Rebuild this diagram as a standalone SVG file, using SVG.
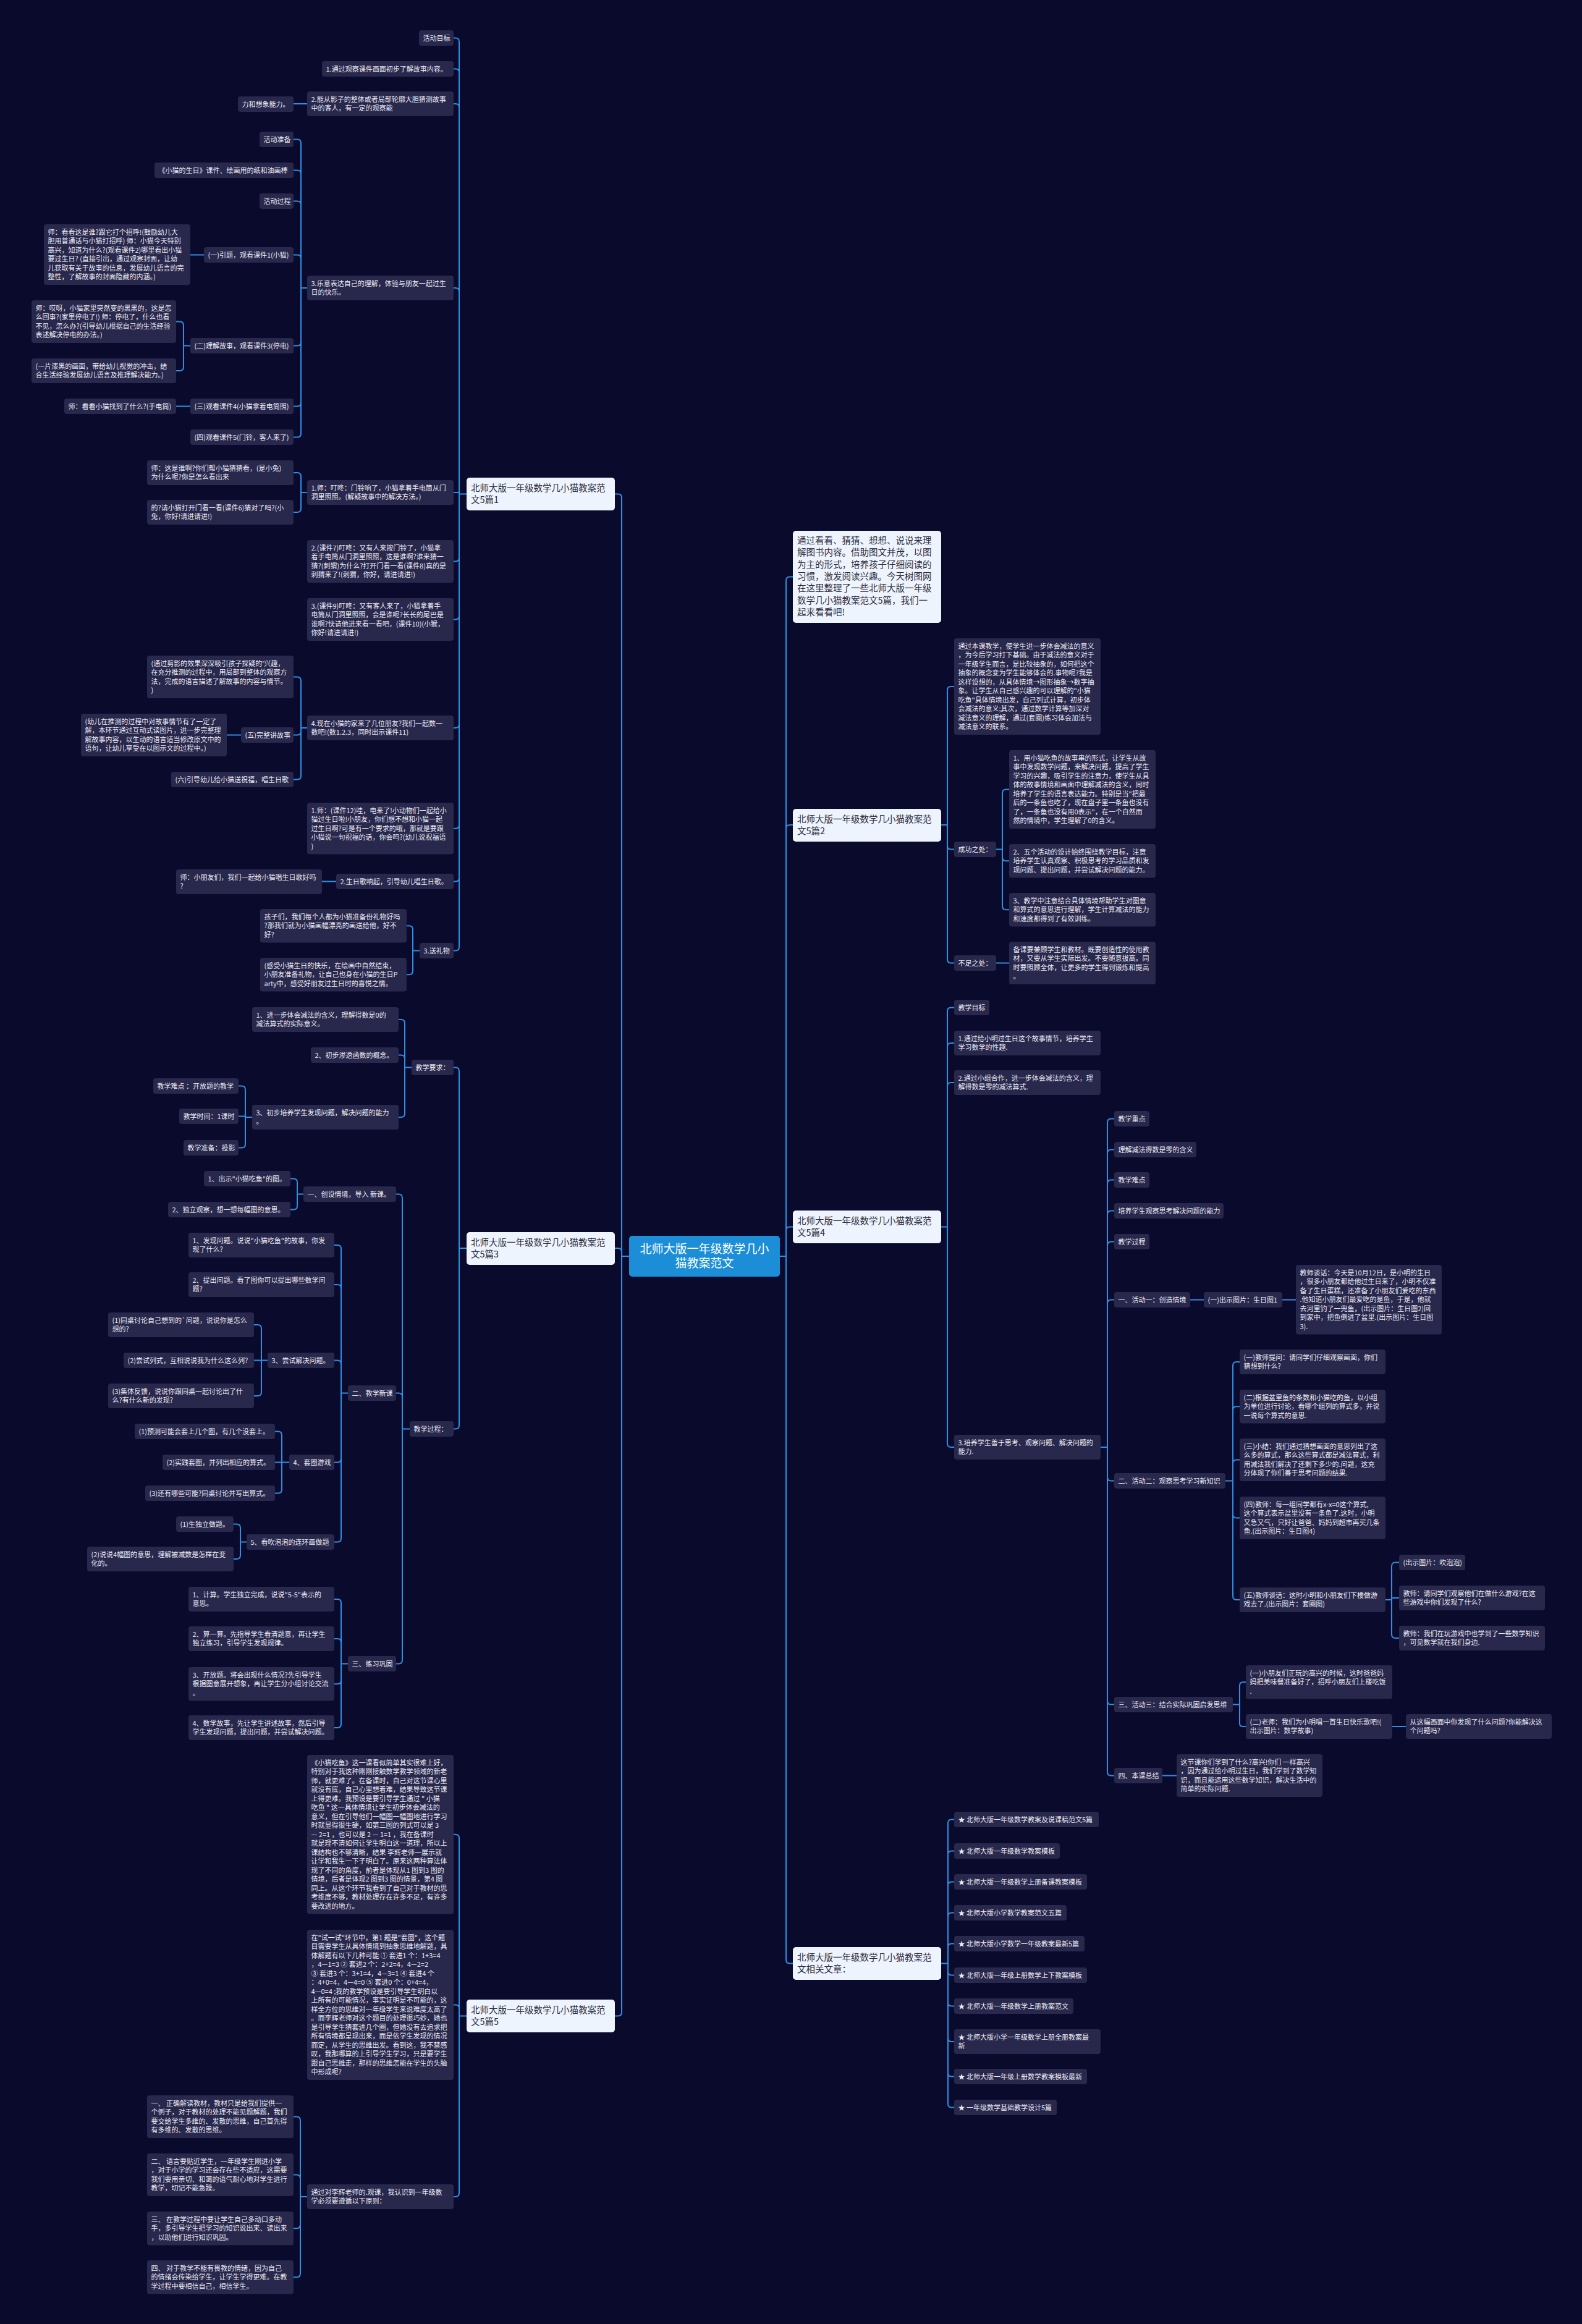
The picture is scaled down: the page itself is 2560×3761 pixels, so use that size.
<svg xmlns="http://www.w3.org/2000/svg" width="2560" height="3761" viewBox="0 0 2560 3761">
<style>
.n rect{fill:#28274c}
.n text{font-family:"Noto Sans CJK SC","Noto Sans",sans-serif;font-size:11px;fill:#ececf4}
.c rect{fill:#eef4fd}
.c text{font-family:"Noto Sans CJK SC","Noto Sans",sans-serif;font-size:14.5px;fill:#2d2d3d}
.r rect{fill:#1c8ed8}
.r text{font-family:"Noto Sans CJK SC","Noto Sans",sans-serif;font-size:19px;fill:#ffffff;text-anchor:middle}
.l path{fill:none;stroke:#2f8fe2;stroke-width:2}
</style>
<rect width="2560" height="3761" fill="#0a0a2c"/>
<g id="connectors" class="l">
<path d="M1018 2033H1006M1006 2033V805.5Q1006 799.5 1000 799.5H995M1006 2033V2026Q1006 2020 1000 2020H995M1006 2033V3256.5Q1006 3262.5 1000 3262.5H995"/>
<path d="M755 799.5H743M743 799.5V67.5Q743 61.5 737 61.5H734M743 799.5V117.5Q743 111.5 737 111.5H734M743 799.5V174Q743 168 737 168H734M743 799.5V472Q743 466 737 466H734M743 799.5V797H734M743 799.5V902.5Q743 908.5 737 908.5H734M743 799.5V996.5Q743 1002.5 737 1002.5H734M743 799.5V1172Q743 1178 737 1178H734M743 799.5V1334.75Q743 1340.75 737 1340.75H734M743 799.5V1420.5Q743 1426.5 737 1426.5H734M743 799.5V1532.5Q743 1538.5 737 1538.5H734"/>
<path d="M497 168H475"/>
<path d="M497 466H487M487 466V231.5Q487 225.5 481 225.5H475M487 466V281.5Q487 275.5 481 275.5H475M487 466V331.5Q487 325.5 481 325.5H475M487 466V418.5Q487 412.5 481 412.5H475M487 466V553.5Q487 559.5 481 559.5H475M487 466V651.5Q487 657.5 481 657.5H475M487 466V701.5Q487 707.5 481 707.5H475"/>
<path d="M330 412.5H308"/>
<path d="M308 559.5H297M297 559.5V526.5Q297 520.5 291 520.5H285M297 559.5V594Q297 600 291 600H285"/>
<path d="M308 657.5H285"/>
<path d="M497 797H487M487 797V771Q487 765 481 765H475M487 797V823Q487 829 481 829H475"/>
<path d="M497 1178H487M487 1178V1101.5Q487 1095.5 481 1095.5H475M487 1178V1183.5Q487 1189.5 481 1189.5H475M487 1178V1255.5Q487 1261.5 481 1261.5H475"/>
<path d="M390 1189.5H367"/>
<path d="M544 1426.5H521"/>
<path d="M679 1538.5H668M668 1538.5V1504.25Q668 1498.25 662 1498.25H658M668 1538.5V1571.25Q668 1577.25 662 1577.25H658"/>
<path d="M755 2020H743M743 2020V1733.5Q743 1727.5 737 1727.5H734M743 2020V2306.5Q743 2312.5 737 2312.5H734"/>
<path d="M666 1727.5H655M655 1727.5V1656Q655 1650 649 1650H645M655 1727.5V1713.5Q655 1707.5 649 1707.5H645M655 1727.5V1802Q655 1808 649 1808H645"/>
<path d="M408 1808H397M397 1808V1763.5Q397 1757.5 391 1757.5H386M397 1808V1806.5H386M397 1808V1851.5Q397 1857.5 391 1857.5H386"/>
<path d="M663 2312.5H651M651 2312.5V1938.5Q651 1932.5 645 1932.5H641M651 2312.5V2260.5Q651 2254.5 645 2254.5H641M651 2312.5V2686.5Q651 2692.5 645 2692.5H641"/>
<path d="M491 1932.5H481M481 1932.5V1913.5Q481 1907.5 475 1907.5H470M481 1932.5V1951.5Q481 1957.5 475 1957.5H470"/>
<path d="M563 2254.5H552M552 2254.5V2021Q552 2015 546 2015H541M552 2254.5V2085Q552 2079 546 2079H541M552 2254.5V2207.5Q552 2201.5 546 2201.5H541M552 2254.5V2360.5Q552 2366.5 546 2366.5H541M552 2254.5V2489.5Q552 2495.5 546 2495.5H541"/>
<path d="M433 2201.5H411M423 2201.5V2150Q423 2144 417 2144H411M423 2201.5V2253Q423 2259 417 2259H411"/>
<path d="M468 2366.5H445M456 2366.5V2322.5Q456 2316.5 450 2316.5H445M456 2366.5V2410.5Q456 2416.5 450 2416.5H445"/>
<path d="M399 2495.5H389M389 2495.5V2472.5Q389 2466.5 383 2466.5H378M389 2495.5V2517Q389 2523 383 2523H378"/>
<path d="M563 2692.5H552M552 2692.5V2594Q552 2588 546 2588H541M552 2692.5V2658Q552 2652 546 2652H541M552 2692.5V2719.25Q552 2725.25 546 2725.25H541M552 2692.5V2790Q552 2796 546 2796H541"/>
<path d="M755 3262.5H743M743 3262.5V2974.75Q743 2968.75 737 2968.75H734M743 3262.5V3250.5Q743 3244.5 737 3244.5H734M743 3262.5V3549Q743 3555 737 3555H734"/>
<path d="M497 3555H486M486 3555V3431.5Q486 3425.5 480 3425.5H475M486 3555V3525.5Q486 3519.5 480 3519.5H475M486 3555V3600.25Q486 3606.25 480 3606.25H475M486 3555V3679.25Q486 3685.25 480 3685.25H475"/>
<path d="M1262 2033H1272M1272 2033V939.5Q1272 933.5 1278 933.5H1283M1272 2033V1341Q1272 1335 1278 1335H1283M1272 2033V1991.5Q1272 1985.5 1278 1985.5H1283M1272 2033V3171.5Q1272 3177.5 1278 3177.5H1283"/>
<path d="M1523 1335H1533M1533 1335V1117Q1533 1111 1539 1111H1544M1533 1335V1368.5Q1533 1374.5 1539 1374.5H1544M1533 1335V1552.5Q1533 1558.5 1539 1558.5H1544"/>
<path d="M1612 1374.5H1622M1622 1374.5V1283.5Q1622 1277.5 1628 1277.5H1633M1622 1374.5V1387.25Q1622 1393.25 1628 1393.25H1633M1622 1374.5V1466.25Q1622 1472.25 1628 1472.25H1633"/>
<path d="M1612 1558.5H1633"/>
<path d="M1523 1985.5H1533M1533 1985.5V1636.5Q1533 1630.5 1539 1630.5H1544M1533 1985.5V1694Q1533 1688 1539 1688H1544M1533 1985.5V1758Q1533 1752 1539 1752H1544M1533 1985.5V2336Q1533 2342 1539 2342H1544"/>
<path d="M1781 2342H1792M1792 2342V1816.5Q1792 1810.5 1798 1810.5H1803M1792 2342V1866.5Q1792 1860.5 1798 1860.5H1803M1792 2342V1915.5Q1792 1909.5 1798 1909.5H1803M1792 2342V1965.5Q1792 1959.5 1798 1959.5H1803M1792 2342V2015.5Q1792 2009.5 1798 2009.5H1803M1792 2342V2109.5Q1792 2103.5 1798 2103.5H1803M1792 2342V2390.5Q1792 2396.5 1798 2396.5H1803M1792 2342V2752.5Q1792 2758.5 1798 2758.5H1803M1792 2342V2867.5Q1792 2873.5 1798 2873.5H1803"/>
<path d="M1926 2103.5H1948M2075 2103.5H2097"/>
<path d="M1983 2396.5H1995M1995 2396.5V2210Q1995 2204 2001 2204H2006M1995 2396.5V2282.25Q1995 2276.25 2001 2276.25H2006M1995 2396.5V2368.5Q1995 2362.5 2001 2362.5H2006M1995 2396.5V2450.5Q1995 2456.5 2001 2456.5H2006M1995 2396.5V2583Q1995 2589 2001 2589H2006"/>
<path d="M2242 2589H2252M2252 2589V2534.5Q2252 2528.5 2258 2528.5H2264M2252 2589V2586H2264M2252 2589V2645Q2252 2651 2258 2651H2264"/>
<path d="M1995 2758.5H2006M2006 2758.5V2728.25Q2006 2722.25 2011 2722.25H2016M2006 2758.5V2789Q2006 2794 2011 2794H2016"/>
<path d="M2253 2794H2275"/>
<path d="M1881 2873.5H1904"/>
<path d="M1523 3177.5H1534M1534 3177.5V2950.5Q1534 2944.5 1540 2944.5H1544M1534 3177.5V3001.5Q1534 2995.5 1540 2995.5H1544M1534 3177.5V3051.5Q1534 3045.5 1540 3045.5H1544M1534 3177.5V3101.5Q1534 3095.5 1540 3095.5H1544M1534 3177.5V3151.5Q1534 3145.5 1540 3145.5H1544M1534 3177.5V3190.5Q1534 3196.5 1540 3196.5H1544M1534 3177.5V3240.5Q1534 3246.5 1540 3246.5H1544M1534 3177.5V3298Q1534 3304 1540 3304H1544M1534 3177.5V3354.5Q1534 3360.5 1540 3360.5H1544M1534 3177.5V3404.5Q1534 3410.5 1540 3410.5H1544"/>
</g>
<g id="root" class="r"><rect x="1018" y="2000" width="244" height="66" rx="5"/><text x="1140" y="2028">北师大版一年级数学几小</text><text x="1140" y="2051">猫教案范文</text></g>
<g class="c">
<g id="cat1"><rect x="755" y="773" width="240" height="53" rx="5"/><text x="762" y="795">北师大版一年级数学几小猫教案范</text><text x="762" y="814">文5篇1</text></g>
<g id="cat3"><rect x="755" y="1994" width="240" height="53" rx="5"/><text x="762" y="2016">北师大版一年级数学几小猫教案范</text><text x="762" y="2035">文5篇3</text></g>
<g id="cat5"><rect x="755" y="3236" width="240" height="53" rx="5"/><text x="762" y="3258">北师大版一年级数学几小猫教案范</text><text x="762" y="3277">文5篇5</text></g>
<g id="intro"><rect x="1283" y="859" width="240" height="149" rx="5"/><text x="1290" y="880">通过看看、猜猜、想想、说说来理</text><text x="1290" y="899.3">解图书内容。借助图文并茂，以图</text><text x="1290" y="918.6">为主的形式，培养孩子仔细阅读的</text><text x="1290" y="937.9">习惯，激发阅读兴趣。今天树图网</text><text x="1290" y="957.2">在这里整理了一些北师大版一年级</text><text x="1290" y="976.5">数学几小猫教案范文5篇，我们一</text><text x="1290" y="995.8">起来看看吧!</text></g>
<g id="cat2"><rect x="1283" y="1309" width="240" height="53" rx="5"/><text x="1290" y="1331">北师大版一年级数学几小猫教案范</text><text x="1290" y="1350">文5篇2</text></g>
<g id="cat4"><rect x="1283" y="1959" width="240" height="53" rx="5"/><text x="1290" y="1981">北师大版一年级数学几小猫教案范</text><text x="1290" y="2000">文5篇4</text></g>
<g id="catr"><rect x="1283" y="3151" width="240" height="53" rx="5"/><text x="1290" y="3173">北师大版一年级数学几小猫教案范</text><text x="1290" y="3192">文相关文章：</text></g>
</g>
<g class="n">
<g id="p1-1"><rect x="678" y="49" width="56" height="25" rx="4"/><text x="684.5" y="65.5">活动目标</text></g>
<g id="p1-2"><rect x="521" y="99" width="213" height="25" rx="4"/><text x="527.5" y="115.5">1.通过观察课件画面初步了解故事内容。</text></g>
<g id="p1-3"><rect x="497" y="148" width="237" height="40" rx="4"/><text x="503.5" y="164.5"><tspan x="503.5">2.能从影子的整体或者局部轮廓大胆猜测故事</tspan><tspan x="503.5" dy="14.5">中的客人，有一定的观察能</tspan></text></g>
<g id="p1-3a"><rect x="385" y="156" width="90" height="25" rx="4"/><text x="391.5" y="172.5">力和想象能力。</text></g>
<g id="p1-4"><rect x="497" y="446" width="237" height="40" rx="4"/><text x="503.5" y="462.5"><tspan x="503.5">3.乐意表达自己的理解，体验与朋友一起过生</tspan><tspan x="503.5" dy="14.5">日的快乐。</tspan></text></g>
<g id="p1-4a"><rect x="420" y="213" width="55" height="25" rx="4"/><text x="426.5" y="229.5">活动准备</text></g>
<g id="p1-4b"><rect x="250" y="263" width="225" height="25" rx="4"/><text x="256.5" y="279.5">《小猫的生日》课件、绘画用的纸和油画棒</text></g>
<g id="p1-4c"><rect x="420" y="313" width="55" height="25" rx="4"/><text x="426.5" y="329.5">活动过程</text></g>
<g id="p1-4d"><rect x="330" y="400" width="145" height="25" rx="4"/><text x="336.5" y="416.5">(一)引题，观看课件1(小猫)</text></g>
<g id="p1-4d1"><rect x="71" y="363" width="237" height="98" rx="4"/><text x="77.5" y="379.5"><tspan x="77.5">师：看看这是谁?跟它打个招呼!(鼓励幼儿大</tspan><tspan x="77.5" dy="14.5">胆用普通话与小猫打招呼) 师：小猫今天特别</tspan><tspan x="77.5" dy="14.5">高兴，知道为什么?(观看课件2)哪里看出小猫</tspan><tspan x="77.5" dy="14.5">要过生日? (直接引出，通过观察封面，让幼</tspan><tspan x="77.5" dy="14.5">儿获取有关于故事的信息，发展幼儿语言的完</tspan><tspan x="77.5" dy="14.5">整性，了解故事的封面隐藏的内涵。)</tspan></text></g>
<g id="p1-4e"><rect x="308" y="547" width="167" height="25" rx="4"/><text x="314.5" y="563.5">(二)理解故事，观看课件3(停电)</text></g>
<g id="p1-4e1"><rect x="51" y="486" width="234" height="69" rx="4"/><text x="57.5" y="502.5"><tspan x="57.5">师：哎呀，小猫家里突然变的黑黑的，这是怎</tspan><tspan x="57.5" dy="14.5">么回事?(家里停电了!) 师：停电了，什么也看</tspan><tspan x="57.5" dy="14.5">不见，怎么办?(引导幼儿根据自己的生活经验</tspan><tspan x="57.5" dy="14.5">表述解决停电的办法。)</tspan></text></g>
<g id="p1-4e2"><rect x="51" y="580" width="234" height="40" rx="4"/><text x="57.5" y="596.5"><tspan x="57.5">(一片漆黑的画面，带给幼儿视觉的冲击，结</tspan><tspan x="57.5" dy="14.5">合生活经验发展幼儿语言及推理解决能力。)</tspan></text></g>
<g id="p1-4f"><rect x="308" y="645" width="167" height="25" rx="4"/><text x="314.5" y="661.5">(三)观看课件4(小猫拿着电筒照)</text></g>
<g id="p1-4f1"><rect x="104" y="645" width="181" height="25" rx="4"/><text x="110.5" y="661.5">师：看看小猫找到了什么?(手电筒)</text></g>
<g id="p1-4g"><rect x="308" y="695" width="167" height="25" rx="4"/><text x="314.5" y="711.5">(四)观看课件5(门铃，客人来了)</text></g>
<g id="p1-5"><rect x="497" y="777" width="237" height="40" rx="4"/><text x="503.5" y="793.5"><tspan x="503.5">1.师：叮咚：门铃响了，小猫拿着手电筒从门</tspan><tspan x="503.5" dy="14.5">洞里照照。(解疑故事中的解决方法。)</tspan></text></g>
<g id="p1-5a"><rect x="238" y="745" width="237" height="40" rx="4"/><text x="244.5" y="761.5"><tspan x="244.5">师：这是谁啊?你们帮小猫猜猜看，(是小兔)</tspan><tspan x="244.5" dy="14.5">为什么呢?你是怎么看出来</tspan></text></g>
<g id="p1-5b"><rect x="238" y="809" width="237" height="40" rx="4"/><text x="244.5" y="825.5"><tspan x="244.5">的?请小猫打开门看一看(课件6)猜对了吗?(小</tspan><tspan x="244.5" dy="14.5">兔，你好!请进请进!)</tspan></text></g>
<g id="p1-6"><rect x="497" y="874" width="237" height="69" rx="4"/><text x="503.5" y="890.5"><tspan x="503.5">2.(课件7)叮咚：又有人来按门铃了，小猫拿</tspan><tspan x="503.5" dy="14.5">着手电筒从门洞里照照，这是谁啊?谁来猜一</tspan><tspan x="503.5" dy="14.5">猜?(刺猬)为什么?打开门看一看(课件8)真的是</tspan><tspan x="503.5" dy="14.5">刺猬来了!(刺猬，你好，请进请进!)</tspan></text></g>
<g id="p1-7"><rect x="497" y="968" width="237" height="69" rx="4"/><text x="503.5" y="984.5"><tspan x="503.5">3.(课件9)叮咚：又有客人来了，小猫拿着手</tspan><tspan x="503.5" dy="14.5">电筒从门洞里照照，会是谁呢?长长的尾巴是</tspan><tspan x="503.5" dy="14.5">谁啊?快请他进来看一看吧，(课件10)(小猴，</tspan><tspan x="503.5" dy="14.5">你好!请进请进!)</tspan></text></g>
<g id="p1-8"><rect x="497" y="1158" width="237" height="40" rx="4"/><text x="503.5" y="1174.5"><tspan x="503.5">4.现在小猫的家来了几位朋友?我们一起数一</tspan><tspan x="503.5" dy="14.5">数吧!(数1.2.3，同时出示课件11)</tspan></text></g>
<g id="p1-8a"><rect x="238" y="1061" width="237" height="69" rx="4"/><text x="244.5" y="1077.5"><tspan x="244.5">(通过剪影的效果深深吸引孩子探疑的'兴趣，</tspan><tspan x="244.5" dy="14.5">在充分推测的过程中，用局部到整体的观察方</tspan><tspan x="244.5" dy="14.5">法，完成的语言描述了解故事的内容与情节。</tspan><tspan x="244.5" dy="14.5">)</tspan></text></g>
<g id="p1-8b"><rect x="390" y="1177" width="85" height="25" rx="4"/><text x="396.5" y="1193.5">(五)完整讲故事</text></g>
<g id="p1-8b1"><rect x="131" y="1155" width="236" height="69" rx="4"/><text x="137.5" y="1171.5"><tspan x="137.5">(幼儿在推测的过程中对故事情节有了一定了</tspan><tspan x="137.5" dy="14.5">解，本环节通过互动式读图片，进一步完整理</tspan><tspan x="137.5" dy="14.5">解故事内容，以生动的语言适当修改原文中的</tspan><tspan x="137.5" dy="14.5">语句，让幼儿享受在以图示文的过程中。)</tspan></text></g>
<g id="p1-8c"><rect x="277" y="1249" width="198" height="25" rx="4"/><text x="283.5" y="1265.5">(六)引导幼儿给小猫送祝福，唱生日歌</text></g>
<g id="p1-9"><rect x="497" y="1299" width="237" height="83.5" rx="4"/><text x="503.5" y="1315.5"><tspan x="503.5">1.师：(课件12)哇，电来了!小动物们一起给小</tspan><tspan x="503.5" dy="14.5">猫过生日啦!小朋友，你们想不想和小猫一起</tspan><tspan x="503.5" dy="14.5">过生日啊?可是有一个要求的哦，那就是要跟</tspan><tspan x="503.5" dy="14.5">小猫说一句祝福的话，你会吗?(幼儿说祝福语</tspan><tspan x="503.5" dy="14.5">)</tspan></text></g>
<g id="p1-10"><rect x="544" y="1414" width="190" height="25" rx="4"/><text x="550.5" y="1430.5">2.生日歌响起，引导幼儿唱生日歌。</text></g>
<g id="p1-10a"><rect x="285" y="1407" width="236" height="40" rx="4"/><text x="291.5" y="1423.5"><tspan x="291.5">师：小朋友们，我们一起给小猫唱生日歌好吗</tspan><tspan x="291.5" dy="14.5">?</tspan></text></g>
<g id="p1-11"><rect x="679" y="1526" width="55" height="25" rx="4"/><text x="685.5" y="1542.5">3.送礼物</text></g>
<g id="p1-11a"><rect x="421" y="1471" width="237" height="54.5" rx="4"/><text x="427.5" y="1487.5"><tspan x="427.5">孩子们，我们每个人都为小猫准备份礼物好吗</tspan><tspan x="427.5" dy="14.5">?那我们就为小猫画幅漂亮的画送给他，好不</tspan><tspan x="427.5" dy="14.5">好?</tspan></text></g>
<g id="p1-11b"><rect x="421" y="1550" width="237" height="54.5" rx="4"/><text x="427.5" y="1566.5"><tspan x="427.5">(感受小猫生日的快乐，在绘画中自然结束，</tspan><tspan x="427.5" dy="14.5">小朋友准备礼物，让自己也身在小猫的生日P</tspan><tspan x="427.5" dy="14.5">arty中，感受好朋友过生日时的喜悦之情。</tspan></text></g>

<g id="p3-1"><rect x="666" y="1715" width="68" height="25" rx="4"/><text x="672.5" y="1731.5">教学要求：</text></g>
<g id="p3-1a"><rect x="408" y="1630" width="237" height="40" rx="4"/><text x="414.5" y="1646.5"><tspan x="414.5">1、进一步体会减法的含义，理解得数是0的</tspan><tspan x="414.5" dy="14.5">减法算式的实际意义。</tspan></text></g>
<g id="p3-1b"><rect x="503" y="1695" width="142" height="25" rx="4"/><text x="509.5" y="1711.5">2、初步渗透函数的概念。</text></g>
<g id="p3-1c"><rect x="408" y="1788" width="237" height="40" rx="4"/><text x="414.5" y="1804.5"><tspan x="414.5">3、初步培养学生发现问题，解决问题的能力</tspan><tspan x="414.5" dy="14.5">。</tspan></text></g>
<g id="p3-1c1"><rect x="248" y="1745" width="138" height="25" rx="4"/><text x="254.5" y="1761.5">教学难点 ：开放题的教学</text></g>
<g id="p3-1c2"><rect x="290" y="1794" width="96" height="25" rx="4"/><text x="296.5" y="1810.5">教学时间：1课时</text></g>
<g id="p3-1c3"><rect x="297" y="1845" width="89" height="25" rx="4"/><text x="303.5" y="1861.5">教学准备：投影</text></g>
<g id="p3-2"><rect x="663" y="2300" width="71" height="25" rx="4"/><text x="669.5" y="2316.5">教学过程：</text></g>
<g id="p3-2a"><rect x="491" y="1920" width="150" height="25" rx="4"/><text x="497.5" y="1936.5">一、创设情境，导入 新课。</text></g>
<g id="p3-2a1"><rect x="330" y="1895" width="140" height="25" rx="4"/><text x="336.5" y="1911.5">1、出示"小猫吃鱼"的图。</text></g>
<g id="p3-2a2"><rect x="272" y="1945" width="198" height="25" rx="4"/><text x="278.5" y="1961.5">2、独立观察，想一想每幅图的意思。</text></g>
<g id="p3-2b"><rect x="563" y="2242" width="78" height="25" rx="4"/><text x="569.5" y="2258.5">二、教学新课</text></g>
<g id="p3-2b1"><rect x="305" y="1995" width="236" height="40" rx="4"/><text x="311.5" y="2011.5"><tspan x="311.5">1、发现问题。说说"小猫吃鱼"的故事，你发</tspan><tspan x="311.5" dy="14.5">现了什么?</tspan></text></g>
<g id="p3-2b2"><rect x="305" y="2059" width="236" height="40" rx="4"/><text x="311.5" y="2075.5"><tspan x="311.5">2、提出问题。看了图你可以提出哪些数学问</tspan><tspan x="311.5" dy="14.5">题?</tspan></text></g>
<g id="p3-2b3"><rect x="433" y="2189" width="108" height="25" rx="4"/><text x="439.5" y="2205.5">3、尝试解决问题。</text></g>
<g id="p3-2b3a"><rect x="175" y="2124" width="236" height="40" rx="4"/><text x="181.5" y="2140.5"><tspan x="181.5">(1)同桌讨论自己想到的`问题，说说你是怎么</tspan><tspan x="181.5" dy="14.5">想的?</tspan></text></g>
<g id="p3-2b3b"><rect x="200" y="2189" width="211" height="25" rx="4"/><text x="206.5" y="2205.5">(2)尝试列式，互相说说我为什么这么列?</text></g>
<g id="p3-2b3c"><rect x="175" y="2239" width="236" height="40" rx="4"/><text x="181.5" y="2255.5"><tspan x="181.5">(3)集体反馈，说说你跟同桌一起讨论出了什</tspan><tspan x="181.5" dy="14.5">么?有什么新的发现?</tspan></text></g>
<g id="p3-2b4"><rect x="468" y="2354" width="73" height="25" rx="4"/><text x="474.5" y="2370.5">4、套圈游戏</text></g>
<g id="p3-2b4a"><rect x="218" y="2304" width="227" height="25" rx="4"/><text x="224.5" y="2320.5">(1)预测可能会套上几个圈，有几个没套上。</text></g>
<g id="p3-2b4b"><rect x="263" y="2354" width="182" height="25" rx="4"/><text x="269.5" y="2370.5">(2)实践套圈，并列出相应的算式。</text></g>
<g id="p3-2b4c"><rect x="235" y="2404" width="210" height="25" rx="4"/><text x="241.5" y="2420.5">(3)还有哪些可能?同桌讨论并写出算式。</text></g>
<g id="p3-2b5"><rect x="399" y="2483" width="142" height="25" rx="4"/><text x="405.5" y="2499.5">5、看吹泡泡的连环画做题</text></g>
<g id="p3-2b5a"><rect x="285" y="2454" width="93" height="25" rx="4"/><text x="291.5" y="2470.5">(1)生独立做题。</text></g>
<g id="p3-2b5b"><rect x="141" y="2503" width="237" height="40" rx="4"/><text x="147.5" y="2519.5"><tspan x="147.5">(2)说说4幅图的意思，理解被减数是怎样在变</tspan><tspan x="147.5" dy="14.5">化的。</tspan></text></g>
<g id="p3-2c"><rect x="563" y="2680" width="78" height="25" rx="4"/><text x="569.5" y="2696.5">三、练习巩固</text></g>
<g id="p3-2c1"><rect x="305" y="2568" width="236" height="40" rx="4"/><text x="311.5" y="2584.5"><tspan x="311.5">1、计算。学生独立完成，说说"5-5"表示的</tspan><tspan x="311.5" dy="14.5">意思。</tspan></text></g>
<g id="p3-2c2"><rect x="305" y="2632" width="236" height="40" rx="4"/><text x="311.5" y="2648.5"><tspan x="311.5">2、算一算。先指导学生看清题意，再让学生</tspan><tspan x="311.5" dy="14.5">独立练习，引导学生发现规律。</tspan></text></g>
<g id="p3-2c3"><rect x="305" y="2698" width="236" height="54.5" rx="4"/><text x="311.5" y="2714.5"><tspan x="311.5">3、开放题。将会出现什么情况?先引导学生</tspan><tspan x="311.5" dy="14.5">根据图意展开想象，再让学生分小组讨论交流</tspan><tspan x="311.5" dy="14.5">。</tspan></text></g>
<g id="p3-2c4"><rect x="305" y="2776" width="236" height="40" rx="4"/><text x="311.5" y="2792.5"><tspan x="311.5">4、数学故事，先让学生讲述故事，然后引导</tspan><tspan x="311.5" dy="14.5">学生发现问题，提出问题，并尝试解决问题。</tspan></text></g>

<g id="p5-1"><rect x="497" y="2840" width="237" height="257.5" rx="4"/><text x="503.5" y="2856.5"><tspan x="503.5">《小猫吃鱼》这一课看似简单其实很难上好，</tspan><tspan x="503.5" dy="14.5">特别对于我这种刚刚接触数学教学领域的新老</tspan><tspan x="503.5" dy="14.5">师，就更难了。在备课时，自己对这节课心里</tspan><tspan x="503.5" dy="14.5">就没有底，自己心里想着难，结果导致这节课</tspan><tspan x="503.5" dy="14.5">上得更难。我预设是要引导学生通过 " 小猫</tspan><tspan x="503.5" dy="14.5">吃鱼 " 这一具体情境让学生初步体会减法的</tspan><tspan x="503.5" dy="14.5">意义，但在引导他们一幅图一幅图地进行学习</tspan><tspan x="503.5" dy="14.5">时就显得很生硬，如第三图的列式可以是 3</tspan><tspan x="503.5" dy="14.5">— 2=1 ，也可以是 2 — 1=1 ，我在备课时</tspan><tspan x="503.5" dy="14.5">就是理不清如何让学生明白这一道理，所以上</tspan><tspan x="503.5" dy="14.5">课结构也不够清晰，结果 李辉老师一展示就</tspan><tspan x="503.5" dy="14.5">让学和我生一下子明白了。原来这两种算法体</tspan><tspan x="503.5" dy="14.5">现了不同的角度，前者是体现从1 图到3 图的</tspan><tspan x="503.5" dy="14.5">情境，后者是体现2 图到3 图的情景，第4 图</tspan><tspan x="503.5" dy="14.5">同上。从这个环节我看到了自己对于教材的思</tspan><tspan x="503.5" dy="14.5">考维度不够，教材处理存在许多不足，有许多</tspan><tspan x="503.5" dy="14.5">要改进的地方。</tspan></text></g>
<g id="p5-2"><rect x="497" y="3123" width="237" height="243" rx="4"/><text x="503.5" y="3139.5"><tspan x="503.5">在"试一试"环节中，第1 题是"套圈"，这个题</tspan><tspan x="503.5" dy="14.5">目需要学生从具体情境到抽象思维地解题，具</tspan><tspan x="503.5" dy="14.5">体解题有以下几种可能 ① 套进1 个：1+3=4</tspan><tspan x="503.5" dy="14.5">，4—1=3 ② 套进2 个：2+2=4，4—2=2</tspan><tspan x="503.5" dy="14.5">③ 套进3 个：3+1=4，4—3=1 ④ 套进4 个</tspan><tspan x="503.5" dy="14.5">：4+0=4，4—4=0 ⑤ 套进0 个：0+4=4，</tspan><tspan x="503.5" dy="14.5">4—0=4 ;我的教学预设是要引导学生明白以</tspan><tspan x="503.5" dy="14.5">上所有的可能情况，事实证明是不可能的，这</tspan><tspan x="503.5" dy="14.5">样全方位的思维对一年级学生来说难度太高了</tspan><tspan x="503.5" dy="14.5">。而李辉老师对这个题目的处理很巧妙，她也</tspan><tspan x="503.5" dy="14.5">是引导学生猜套进几个圈，但她没有去追求把</tspan><tspan x="503.5" dy="14.5">所有情境都呈现出来，而是依学生发现的情况</tspan><tspan x="503.5" dy="14.5">而定，从学生的思维出发。看到这，我不禁感</tspan><tspan x="503.5" dy="14.5">叹，我那哪算的上引导学生学习，只是要学生</tspan><tspan x="503.5" dy="14.5">跟自己思维走，那样的思维怎能在学生的头脑</tspan><tspan x="503.5" dy="14.5">中形成呢?</tspan></text></g>
<g id="p5-3"><rect x="497" y="3535" width="237" height="40" rx="4"/><text x="503.5" y="3551.5"><tspan x="503.5">通过对李辉老师的.观课，我认识到一年级数</tspan><tspan x="503.5" dy="14.5">学必须要遵循以下原则：</tspan></text></g>
<g id="p5-3a"><rect x="238" y="3391" width="237" height="69" rx="4"/><text x="244.5" y="3407.5"><tspan x="244.5">一、 正确解读教材，教材只是给我们提供一</tspan><tspan x="244.5" dy="14.5">个例子，对于教材的处理不能见题解题，我们</tspan><tspan x="244.5" dy="14.5">要交给学生多维的、发散的思维，自己首先得</tspan><tspan x="244.5" dy="14.5">有多维的、发散的思维。</tspan></text></g>
<g id="p5-3b"><rect x="238" y="3485" width="237" height="69" rx="4"/><text x="244.5" y="3501.5"><tspan x="244.5">二、 语言要贴近学生，一年级学生刚进小学</tspan><tspan x="244.5" dy="14.5">，对于小学的学习还会存在些不适应，这需要</tspan><tspan x="244.5" dy="14.5">我们要用亲切、和蔼的语气耐心地对学生进行</tspan><tspan x="244.5" dy="14.5">教学，切记不能急躁。</tspan></text></g>
<g id="p5-3c"><rect x="238" y="3579" width="237" height="54.5" rx="4"/><text x="244.5" y="3595.5"><tspan x="244.5">三、 在教学过程中要让学生自己多动口多动</tspan><tspan x="244.5" dy="14.5">手，多引导学生把学习的知识说出来、读出来</tspan><tspan x="244.5" dy="14.5">，以助他们进行知识巩固。</tspan></text></g>
<g id="p5-3d"><rect x="238" y="3658" width="237" height="54.5" rx="4"/><text x="244.5" y="3674.5"><tspan x="244.5">四、 对于教学不能有畏教的情绪，因为自己</tspan><tspan x="244.5" dy="14.5">的情绪会传染给学生，让学生学得更难。在教</tspan><tspan x="244.5" dy="14.5">学过程中要相信自己，相信学生。</tspan></text></g>

<g id="p2-1"><rect x="1544" y="1033" width="237" height="156" rx="4"/><text x="1550.5" y="1049.5"><tspan x="1550.5">通过本课教学，使学生进一步体会减法的意义</tspan><tspan x="1550.5" dy="14.5">，为今后学习打下基础。由于减法的意义对于</tspan><tspan x="1550.5" dy="14.5">一年级学生而言，是比较抽象的，如何把这个</tspan><tspan x="1550.5" dy="14.5">抽象的概念变为学生能够体会的.事物呢?我是</tspan><tspan x="1550.5" dy="14.5">这样设想的，从具体情境→图形抽象→数字抽</tspan><tspan x="1550.5" dy="14.5">象。让学生从自己感兴趣的可以理解的"小猫</tspan><tspan x="1550.5" dy="14.5">吃鱼"具体情境出发，自己列式计算，初步体</tspan><tspan x="1550.5" dy="14.5">会减法的意义;其次，通过数学计算等加深对</tspan><tspan x="1550.5" dy="14.5">减法意义的理解，通过(套圈)练习体会加法与</tspan><tspan x="1550.5" dy="14.5">减法意义的联系。</tspan></text></g>
<g id="p2-2"><rect x="1544" y="1362" width="68" height="25" rx="4"/><text x="1550.5" y="1378.5">成功之处：</text></g>
<g id="p2-2a"><rect x="1633" y="1214" width="237" height="127" rx="4"/><text x="1639.5" y="1230.5"><tspan x="1639.5">1、用小猫吃鱼的故事串的形式，让学生从故</tspan><tspan x="1639.5" dy="14.5">事中发现数学问题，来解决问题，提高了学生</tspan><tspan x="1639.5" dy="14.5">学习的兴趣，吸引学生的注意力，使学生从具</tspan><tspan x="1639.5" dy="14.5">体的故事情境和画面中理解减法的含义，同时</tspan><tspan x="1639.5" dy="14.5">培养了学生的语言表达能力。特别是当"把最</tspan><tspan x="1639.5" dy="14.5">后的一条鱼也吃了，现在盘子里一条鱼也没有</tspan><tspan x="1639.5" dy="14.5">了，一条鱼也没有用0表示"，在一个自然而</tspan><tspan x="1639.5" dy="14.5">然的情境中，学生理解了0的含义。</tspan></text></g>
<g id="p2-2b"><rect x="1633" y="1366" width="237" height="54.5" rx="4"/><text x="1639.5" y="1382.5"><tspan x="1639.5">2、五个活动的设计始终围绕教学目标，注意</tspan><tspan x="1639.5" dy="14.5">培养学生认真观察、积极思考的学习品质和发</tspan><tspan x="1639.5" dy="14.5">现问题、提出问题，并尝试解决问题的能力。</tspan></text></g>
<g id="p2-2c"><rect x="1633" y="1445" width="237" height="54.5" rx="4"/><text x="1639.5" y="1461.5"><tspan x="1639.5">3、教学中注意结合具体情境帮助学生对图意</tspan><tspan x="1639.5" dy="14.5">和算式的意思进行理解，学生计算减法的能力</tspan><tspan x="1639.5" dy="14.5">和速度都得到了有效训练。</tspan></text></g>
<g id="p2-3"><rect x="1544" y="1546" width="68" height="25" rx="4"/><text x="1550.5" y="1562.5">不足之处：</text></g>
<g id="p2-3a"><rect x="1633" y="1524" width="237" height="69" rx="4"/><text x="1639.5" y="1540.5"><tspan x="1639.5">备课要兼顾学生和教材。既要创造性的使用教</tspan><tspan x="1639.5" dy="14.5">材，又要从学生实际出发。不要随意拔高。同</tspan><tspan x="1639.5" dy="14.5">时要照顾全体，让更多的学生得到锻炼和提高</tspan><tspan x="1639.5" dy="14.5">。</tspan></text></g>

<g id="p4-1"><rect x="1544" y="1618" width="57" height="25" rx="4"/><text x="1550.5" y="1634.5">教学目标</text></g>
<g id="p4-2"><rect x="1544" y="1668" width="237" height="40" rx="4"/><text x="1550.5" y="1684.5"><tspan x="1550.5">1.通过给小明过生日这个故事情节，培养学生</tspan><tspan x="1550.5" dy="14.5">学习数学的性趣.</tspan></text></g>
<g id="p4-3"><rect x="1544" y="1732" width="237" height="40" rx="4"/><text x="1550.5" y="1748.5"><tspan x="1550.5">2.通过小组合作，进一步体会减法的含义，理</tspan><tspan x="1550.5" dy="14.5">解得数是零的减法算式.</tspan></text></g>
<g id="p4-4"><rect x="1544" y="2322" width="237" height="40" rx="4"/><text x="1550.5" y="2338.5"><tspan x="1550.5">3.培养学生善于思考、观察问题、解决问题的</tspan><tspan x="1550.5" dy="14.5">能力.</tspan></text></g>
<g id="p4-4a"><rect x="1803" y="1798" width="57" height="25" rx="4"/><text x="1809.5" y="1814.5">教学重点</text></g>
<g id="p4-4b"><rect x="1803" y="1848" width="133" height="25" rx="4"/><text x="1809.5" y="1864.5">理解减法得数是零的含义</text></g>
<g id="p4-4c"><rect x="1803" y="1897" width="57" height="25" rx="4"/><text x="1809.5" y="1913.5">教学难点</text></g>
<g id="p4-4d"><rect x="1803" y="1947" width="177" height="25" rx="4"/><text x="1809.5" y="1963.5">培养学生观察思考解决问题的能力</text></g>
<g id="p4-4e"><rect x="1803" y="1997" width="57" height="25" rx="4"/><text x="1809.5" y="2013.5">教学过程</text></g>
<g id="p4-4f"><rect x="1803" y="2091" width="123" height="25" rx="4"/><text x="1809.5" y="2107.5">一、活动一：创造情境</text></g>
<g id="p4-4f1"><rect x="1948" y="2091" width="127" height="25" rx="4"/><text x="1954.5" y="2107.5">(一)出示图片：生日图1</text></g>
<g id="p4-4f2"><rect x="2097" y="2047" width="236" height="112.5" rx="4"/><text x="2103.5" y="2063.5"><tspan x="2103.5">教师谈话：今天是10月12日，是小明的生日</tspan><tspan x="2103.5" dy="14.5">，很多小朋友都给他过生日来了，小明不仅准</tspan><tspan x="2103.5" dy="14.5">备了生日蛋糕，还准备了小朋友们爱吃的东西</tspan><tspan x="2103.5" dy="14.5">.他知道小朋友们最爱吃的是鱼，于是，他就</tspan><tspan x="2103.5" dy="14.5">去河里钓了一兜鱼，(出示图片：生日图2)回</tspan><tspan x="2103.5" dy="14.5">到家中，把鱼倒进了盆里.(出示图片：生日图</tspan><tspan x="2103.5" dy="14.5">3).</tspan></text></g>
<g id="p4-4g"><rect x="1803" y="2384" width="180" height="25" rx="4"/><text x="1809.5" y="2400.5">二、活动二：观察思考学习新知识</text></g>
<g id="p4-4g1"><rect x="2006" y="2184" width="236" height="40" rx="4"/><text x="2012.5" y="2200.5"><tspan x="2012.5">(一)教师提问：请同学们仔细观察画面，你们</tspan><tspan x="2012.5" dy="14.5">猜想到什么?</tspan></text></g>
<g id="p4-4g2"><rect x="2006" y="2249" width="236" height="54.5" rx="4"/><text x="2012.5" y="2265.5"><tspan x="2012.5">(二)根据盆里鱼的条数和小猫吃的鱼，以小组</tspan><tspan x="2012.5" dy="14.5">为单位进行讨论，看哪个组列的算式多，并说</tspan><tspan x="2012.5" dy="14.5">一说每个算式的意思.</tspan></text></g>
<g id="p4-4g3"><rect x="2006" y="2328" width="236" height="69" rx="4"/><text x="2012.5" y="2344.5"><tspan x="2012.5">(三)小结：我们通过猜想画面的意思列出了这</tspan><tspan x="2012.5" dy="14.5">么多的算式，那么这些算式都是减法算式，利</tspan><tspan x="2012.5" dy="14.5">用减法我们解决了还剩下多少的.问题，这充</tspan><tspan x="2012.5" dy="14.5">分体现了你们善于思考问题的结果.</tspan></text></g>
<g id="p4-4g4"><rect x="2006" y="2422" width="236" height="69" rx="4"/><text x="2012.5" y="2438.5"><tspan x="2012.5">(四)教师：每一组同学都有x-x=0这个算式,</tspan><tspan x="2012.5" dy="14.5">这个算式表示盆里没有一条鱼了.这时，小明</tspan><tspan x="2012.5" dy="14.5">又急又气，只好让爸爸、妈妈到超市再买几条</tspan><tspan x="2012.5" dy="14.5">鱼.(出示图片：生日图4)</tspan></text></g>
<g id="p4-4g5"><rect x="2006" y="2569" width="236" height="40" rx="4"/><text x="2012.5" y="2585.5"><tspan x="2012.5">(五)教师谈话：这时小明和小朋友们下楼做游</tspan><tspan x="2012.5" dy="14.5">戏去了.(出示图片：套圈图)</tspan></text></g>
<g id="p4-4g5a"><rect x="2264" y="2516" width="107" height="25" rx="4"/><text x="2270.5" y="2532.5">(出示图片：吹泡泡)</text></g>
<g id="p4-4g5b"><rect x="2264" y="2566" width="236" height="40" rx="4"/><text x="2270.5" y="2582.5"><tspan x="2270.5">教师：请同学们观察他们在做什么游戏?在这</tspan><tspan x="2270.5" dy="14.5">些游戏中你们发现了什么?</tspan></text></g>
<g id="p4-4g5c"><rect x="2264" y="2631" width="236" height="40" rx="4"/><text x="2270.5" y="2647.5"><tspan x="2270.5">教师：我们在玩游戏中也学到了一些数学知识</tspan><tspan x="2270.5" dy="14.5">，可见数学就在我们身边.</tspan></text></g>
<g id="p4-4h"><rect x="1803" y="2746" width="192" height="25" rx="4"/><text x="1809.5" y="2762.5">三、活动三：结合实际巩固启发思维</text></g>
<g id="p4-4h1"><rect x="2016" y="2695" width="237" height="54.5" rx="4"/><text x="2022.5" y="2711.5"><tspan x="2022.5">(一)小朋友们正玩的高兴的时候，这时爸爸妈</tspan><tspan x="2022.5" dy="14.5">妈把美味餐准备好了，招呼小朋友们上楼吃饭</tspan><tspan x="2022.5" dy="14.5">.</tspan></text></g>
<g id="p4-4h2"><rect x="2016" y="2774" width="237" height="40" rx="4"/><text x="2022.5" y="2790.5"><tspan x="2022.5">(二)老师：我们为小明唱一首生日快乐歌吧!(</tspan><tspan x="2022.5" dy="14.5">出示图片：数学故事)</tspan></text></g>
<g id="p4-4h2a"><rect x="2275" y="2774" width="236" height="40" rx="4"/><text x="2281.5" y="2790.5"><tspan x="2281.5">从这幅画面中你发现了什么问题?你能解决这</tspan><tspan x="2281.5" dy="14.5">个问题吗?</tspan></text></g>
<g id="p4-4i"><rect x="1803" y="2861" width="78" height="25" rx="4"/><text x="1809.5" y="2877.5">四、本课总结</text></g>
<g id="p4-4i1"><rect x="1904" y="2839" width="236" height="69" rx="4"/><text x="1910.5" y="2855.5"><tspan x="1910.5">这节课你们学到了什么?高兴!你们 一样高兴</tspan><tspan x="1910.5" dy="14.5">，因为通过给小明过生日，我们学到了数学知</tspan><tspan x="1910.5" dy="14.5">识，而且能运用这些数学知识，解决生活中的</tspan><tspan x="1910.5" dy="14.5">简单的实际问题.</tspan></text></g>

<g id="r1"><rect x="1544" y="2932" width="234" height="25" rx="4"/><text x="1550.5" y="2948.5">★ 北师大版一年级数学教案及说课稿范文5篇</text></g>
<g id="r2"><rect x="1544" y="2983" width="171" height="25" rx="4"/><text x="1550.5" y="2999.5">★ 北师大版一年级数学教案模板</text></g>
<g id="r3"><rect x="1544" y="3033" width="215" height="25" rx="4"/><text x="1550.5" y="3049.5">★ 北师大版一年级数学上册备课教案模板</text></g>
<g id="r4"><rect x="1544" y="3083" width="182" height="25" rx="4"/><text x="1550.5" y="3099.5">★ 北师大版小学数学教案范文五篇</text></g>
<g id="r5"><rect x="1544" y="3133" width="211" height="25" rx="4"/><text x="1550.5" y="3149.5">★ 北师大版小学数学一年级教案最新5篇</text></g>
<g id="r6"><rect x="1544" y="3184" width="215" height="25" rx="4"/><text x="1550.5" y="3200.5">★ 北师大版一年级上册数学上下教案模板</text></g>
<g id="r7"><rect x="1544" y="3234" width="193" height="25" rx="4"/><text x="1550.5" y="3250.5">★ 北师大版一年级数学上册教案范文</text></g>
<g id="r8"><rect x="1544" y="3284" width="237" height="40" rx="4"/><text x="1550.5" y="3300.5"><tspan x="1550.5">★ 北师大版小学一年级数学上册全册教案最</tspan><tspan x="1550.5" dy="14.5">新</tspan></text></g>
<g id="r9"><rect x="1544" y="3348" width="215" height="25" rx="4"/><text x="1550.5" y="3364.5">★ 北师大版一年级上册数学教案模板最新</text></g>
<g id="r10"><rect x="1544" y="3398" width="166" height="25" rx="4"/><text x="1550.5" y="3414.5">★ 一年级数学基础教学设计5篇</text></g>
</g>
</svg>
